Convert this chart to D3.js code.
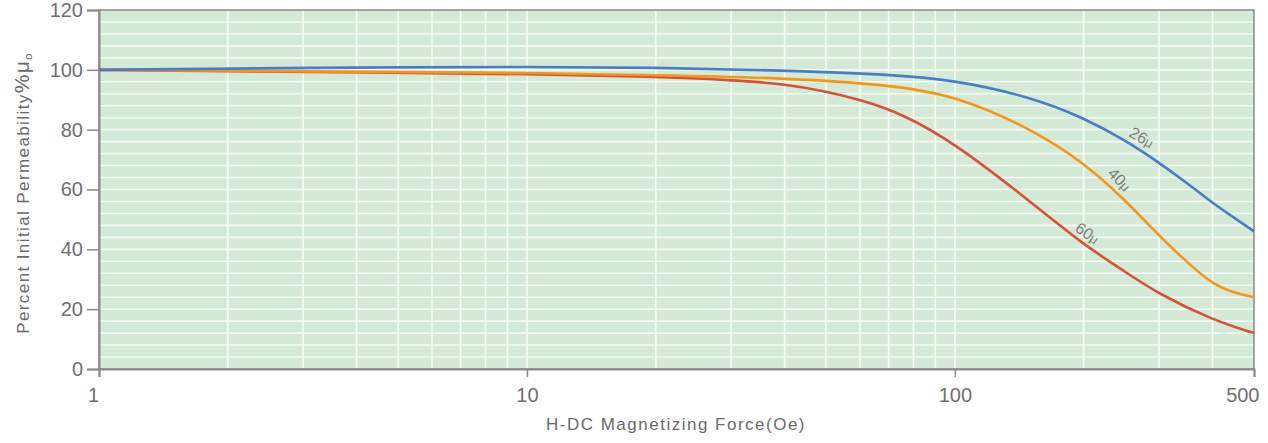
<!DOCTYPE html>
<html>
<head>
<meta charset="utf-8">
<script src="https://cdn.jsdelivr.net/npm/d3@7"></script>
<style>
body { margin: 0; background: #fff; }
svg { font-family: "Liberation Sans", Arial, sans-serif; }
</style>
</head>
<body>
<svg id="chart"></svg>
<script>
// values (H in Oe, % of initial permeability)
var hValues = [1, 2, 5, 10, 20, 40, 70, 100, 150, 200, 250, 300, 350, 400, 450, 500];
var perm26 = [100, 100.4, 100.9, 101, 100.8, 99.8, 98.5, 96.6, 91, 84, 76.5, 69, 62, 55.5, 50.5, 46];
var perm40 = [100, 99.7, 99.3, 99, 98.2, 97.3, 95, 91.5, 80.5, 69, 56.5, 44.5, 35.5, 28.3, 25.4, 24];
var redH = [1, 5, 10, 20, 30, 40, 50, 60, 75, 100, 150, 200, 250, 300, 400, 500];
var perm60 = [100, 99, 98.6, 97.7, 96.6, 95.3, 92.8, 90, 85.5, 75.5, 56, 41.5, 32.5, 25, 16.4, 12];
var seriesNames = ["26μ", "40μ", "60μ"];
var seriesColors = ["#4a7dc6", "#f2961c", "#d6513a"];
var xTicks = [1, 10, 100, 500];
var yTicks = [0, 20, 40, 60, 80, 100, 120];
// where the curve labels sit (H value) and their angle
var labelAt = [265, 232, 197];
var labelAngle = [30, 46, 35];

var screen = {width: 1268, height: 443};
var margins = {top: 10, right: 14, bottom: 74, left: 99};

var svg = d3.select("#chart")
  .attr("width", screen.width)
  .attr("height", screen.height);

var width = screen.width - margins.left - margins.right;
var height = screen.height - margins.top - margins.bottom;

var xScale = d3.scaleLog().domain([1, 500]).range([0, width]);
var yScale = d3.scaleLinear().domain([0, 120]).range([height, 0]);

var g = svg.append("g")
  .attr("transform", "translate(" + margins.left + "," + margins.top + ")");

// green plot area
g.append("rect")
  .attr("width", width).attr("height", height)
  .attr("fill", "#d5ead6");

// horizontal grid, every 4 %
var hGrid = d3.range(4, 120, 4);
g.selectAll(".hgrid").data(hGrid).enter().append("line")
  .attr("class", "hgrid")
  .attr("x1", 0).attr("x2", width)
  .attr("y1", function(d) { return yScale(d); })
  .attr("y2", function(d) { return yScale(d); })
  .attr("stroke", "#f4faf4").attr("stroke-width", 1.6);

// vertical log grid
var vGrid = [];
[1, 10, 100].forEach(function(dec) {
  for (var k = 1; k < 10; k++) {
    var v = dec * k;
    if (v > 1 && v < 500) vGrid.push(v);
  }
});
g.selectAll(".vgrid").data(vGrid).enter().append("line")
  .attr("class", "vgrid")
  .attr("y1", 0).attr("y2", height)
  .attr("x1", function(d) { return xScale(d); })
  .attr("x2", function(d) { return xScale(d); })
  .attr("stroke", "#f6fbf6").attr("stroke-width", 1.6);

// frame
g.append("rect")
  .attr("width", width).attr("height", height)
  .attr("fill", "none").attr("stroke", "#8a8a8a").attr("stroke-width", 1.5);

// axes
var yAxis = d3.axisLeft(yScale).tickValues(yTicks).tickSize(12).tickPadding(4);
var xAxis = d3.axisBottom(xScale).tickValues(xTicks).tickSize(8).tickPadding(11)
  .tickFormat(function(d) { return String(d); });

var ya = g.append("g").call(yAxis);
var xa = g.append("g").attr("transform", "translate(0," + height + ")").call(xAxis);

[ya, xa].forEach(function(a) {
  a.select(".domain").attr("stroke", "#8a8a8a").attr("stroke-width", 2);
  a.selectAll(".tick line").attr("stroke", "#8a8a8a").attr("stroke-width", 1.5);
  a.selectAll(".tick text").attr("fill", "#707070").style("font-size", "20px");
});
xa.selectAll(".tick text").filter(function(d) { return d == 500; })
  .attr("text-anchor", "end").attr("dx", "5px");
xa.selectAll(".tick text").filter(function(d) { return d == 1; })
  .attr("dx", "-6px");

// curves
var series = [
  {name: seriesNames[0], h: hValues, p: perm26, color: seriesColors[0]},
  {name: seriesNames[1], h: hValues, p: perm40, color: seriesColors[1]},
  {name: seriesNames[2], h: redH, p: perm60, color: seriesColors[2]}
];

var line = d3.line()
  .x(function(d) { return xScale(d[0]); })
  .y(function(d) { return yScale(d[1]); })
  .curve(d3.curveBasis);

// draw red first so blue ends on top
series.slice().reverse().forEach(function(s) {
  var pts = s.h.map(function(h, i) { return [h, s.p[i]]; });
  g.append("path")
    .datum(pts)
    .attr("d", line)
    .attr("fill", "none")
    .attr("stroke", s.color)
    .attr("stroke-width", 2.6);
});

// curve labels
function valueAt(s, h) {
  var lx = s.h.map(function(v) { return Math.log10(v); });
  var i = d3.bisectLeft(lx, Math.log10(h));
  var t = (Math.log10(h) - lx[i - 1]) / (lx[i] - lx[i - 1]);
  return s.p[i - 1] + t * (s.p[i] - s.p[i - 1]);
}

series.forEach(function(s, i) {
  var px = xScale(labelAt[i]);
  var py = yScale(valueAt(s, labelAt[i]));
  var t = g.append("text")
    .attr("transform", "translate(" + px + "," + py + ") rotate(" + labelAngle[i] + ")")
    .attr("text-anchor", "middle")
    .attr("dy", "-6px")
    .attr("fill", "#7d7d7d")
    .style("font-size", "16px");
  t.append("tspan").text(s.name.replace("μ", ""));
  t.append("tspan").text("μ").style("font-size", "13px");
});

// axis titles
svg.append("text")
  .attr("x", 676)
  .attr("y", 430)
  .attr("text-anchor", "middle")
  .attr("fill", "#6a6a6a")
  .style("font-size", "17px")
  .style("letter-spacing", "1.5px")
  .text("H-DC Magnetizing Force(Oe)");

var yt = svg.append("text")
  .attr("transform", "translate(29,193) rotate(-90)")
  .attr("text-anchor", "middle")
  .attr("fill", "#6a6a6a")
  .style("font-size", "17px")
  .style("letter-spacing", "1.4px");
yt.append("tspan").text("Percent Initial Permeability");
yt.append("tspan").text("%").style("font-size", "21px");
yt.append("tspan").text("μ").style("font-size", "21px");
yt.append("tspan").text("o").style("font-size", "11px").attr("dy", "3px");
</script>
</body>
</html>
